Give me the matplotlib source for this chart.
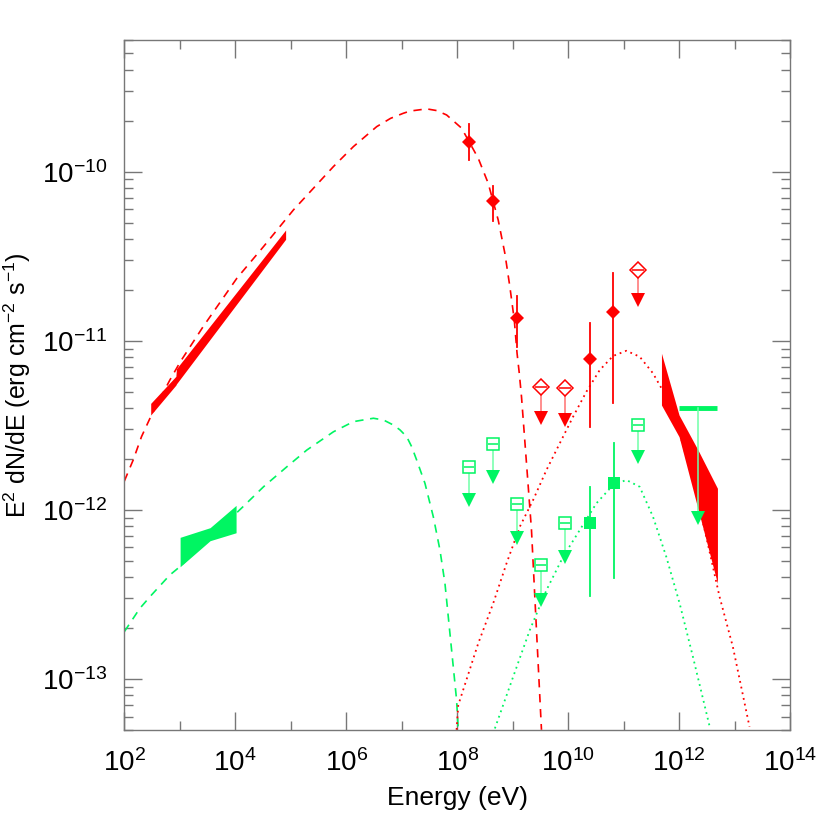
import numpy as np
import matplotlib
matplotlib.use("Agg")
import matplotlib.pyplot as plt
from matplotlib.ticker import FixedLocator, FuncFormatter, NullFormatter

plt.rcParams['font.family'] = ['Liberation Sans', 'DejaVu Sans']
plt.rcParams['mathtext.default'] = 'regular'
plt.rcParams['axes.unicode_minus'] = False

RED = '#ff0000'
GREEN = '#00f562'

# ---- model curves (log10 E [eV], log10 E^2 dN/dE [erg cm-2 s-1])
red_dash_logE = [2.0, 2.16, 2.31, 2.49, 2.82, 3.01, 3.42, 4.03, 4.51, 5.05, 5.41, 5.77, 6.13, 6.55,
                 6.80, 7.03, 7.15, 7.45, 7.63, 7.81, 8.08, 8.23, 8.38, 8.56, 8.74, 8.86, 8.95, 9.03,
                 9.08, 9.12, 9.16, 9.25, 9.34, 9.40, 9.46, 9.52]
red_dash_logF = [-11.83, -11.705, -11.567, -11.439, -11.233, -11.124, -10.917, -10.630, -10.443,
                 -10.226, -10.098, -9.970, -9.852, -9.734, -9.685, -9.655, -9.642, -9.629, -9.639,
                 -9.665, -9.743, -9.832, -9.921, -10.069, -10.286, -10.483, -10.680, -10.877,
                 -11.074, -11.192, -11.331, -11.724, -12.119, -12.513, -12.907, -13.30]

green_dash_logE = [2.0, 2.28, 2.49, 2.82, 3.00, 4.14, 4.51, 4.93, 5.29, 5.77, 6.13, 6.49, 6.67,
                   6.85, 6.97, 7.09, 7.18, 7.27, 7.42, 7.57, 7.69, 7.78, 7.87, 7.93, 7.99, 8.02]
green_dash_logF = [-12.72, -12.582, -12.503, -12.385, -12.336, -11.981, -11.863, -11.745, -11.646,
                   -11.538, -11.478, -11.458, -11.468, -11.498, -11.527, -11.567, -11.626, -11.705,
                   -11.843, -12.040, -12.237, -12.434, -12.730, -12.927, -13.124, -13.30]

red_dot_logE = [7.99, 8.02, 8.38, 8.65, 8.89, 9.13, 9.37, 9.61, 9.85, 10.09, 10.33, 10.57, 10.81,
                11.05, 11.29, 11.53, 11.77, 12.01, 12.25, 12.49, 12.73, 12.97, 13.27]
red_dot_logF = [-13.30, -13.154, -12.789, -12.552, -12.316, -12.099, -11.941, -11.764, -11.606,
                -11.449, -11.301, -11.173, -11.090, -11.059, -11.094, -11.192, -11.331, -11.547,
                -11.823, -12.158, -12.513, -12.809, -13.282]

green_dot_logE = [8.68, 9.01, 9.31, 9.61, 9.91, 10.21, 10.51, 10.81, 11.05, 11.29, 11.53, 11.77,
                  12.01, 12.25, 12.56]
green_dot_logF = [-13.292, -12.986, -12.710, -12.474, -12.277, -12.119, -11.961, -11.853, -11.823,
                  -11.863, -12.040, -12.277, -12.552, -12.868, -13.292]

# ---- red detections (filled diamonds)
red_pt_logE = [8.211, 8.649, 9.081, 10.386, 10.818]
red_pt_logF = [-9.823, -10.175, -10.867, -11.108, -10.831]
red_pt_hi = [-9.719, -10.085, -10.735, -10.895, -10.601]
red_pt_lo = [-9.930, -10.290, -11.035, -11.508, -11.370]

# ---- red upper limits (open diamonds)
red_ul_logE = [9.514, 9.953, 11.256]
red_ul_logF = [-11.271, -11.281, -10.581]
red_ul_arrow = [-11.458, -11.468, -10.759]

# ---- green detections (filled squares)
green_pt_logE = [10.386, 10.824]
green_pt_logF = [-12.076, -11.843]
green_pt_hi = [-11.866, -11.606]
green_pt_lo = [-12.509, -12.401]

# ---- green upper limits (open squares)
green_ul_logE = [8.216, 8.649, 9.081, 9.514, 9.953, 11.256]
green_ul_logF = [-11.745, -11.612, -11.965, -12.326, -12.079, -11.498]
green_ul_arrow = [-11.941, -11.804, -12.168, -12.533, -12.280, -11.685]

# ---- green TeV upper limit (bar + arrow)
green_tev_logE = [11.993, 12.342, 12.692]
green_tev_logF = -11.397
green_tev_arrow = -12.050

# ---- red X-ray band
xray_logE = [2.476, 2.93, 2.94, 4.908]
xray_hi = [-11.370, -11.21, -11.165, -10.345]
xray_lo = [-11.439, -11.262, -11.255, -10.400]

# ---- green optical/UV bowtie
opt_logE = [3.006, 3.546, 4.015]
opt_hi = [-12.162, -12.105, -11.973]
opt_lo = [-12.336, -12.182, -12.135]

# ---- red TeV bowtie
tev_logE = [11.683, 12.0, 12.342, 12.692]
tev_hi = [-11.074, -11.439, -11.646, -11.872]
tev_lo = [-11.380, -11.567, -11.995, -12.434]

x_major_exp = [2, 4, 6, 8, 10, 12, 14]
x_minor_exp = [3, 5, 7, 9, 11, 13]
y_major_exp = [-13, -12, -11, -10]


def p(a):
    return np.power(10.0, np.asarray(a, dtype=float))


fig = plt.figure(figsize=(8.3, 8.3), dpi=100)
ax = fig.add_axes([124.3 / 830, 1 - 730 / 830, (790 - 124.3) / 830, 690 / 830])
ax.set_xscale('log')
ax.set_yscale('log')

# bands
ax.fill_between(p(xray_logE), p(xray_lo), p(xray_hi), color=RED, lw=0, zorder=3)
ax.fill_between(p(opt_logE), p(opt_lo), p(opt_hi), color=GREEN, lw=0, zorder=3)
ax.fill_between(p(tev_logE), p(tev_lo), p(tev_hi), color=RED, lw=0, zorder=3)

# curves
ax.plot(p(red_dash_logE), p(red_dash_logF), color=RED, lw=1.2, ls=(0, (5, 4)), zorder=2)
ax.plot(p(green_dash_logE), p(green_dash_logF), color=GREEN, lw=1.2, ls=(0, (5, 4)), zorder=2)
ax.plot(p(red_dot_logE), p(red_dot_logF), color=RED, lw=1.3, ls=(0, (1, 2.2)), zorder=2)
ax.plot(p(green_dot_logE), p(green_dot_logF), color=GREEN, lw=1.3, ls=(0, (1, 2.2)), zorder=2)

# red detections
for e, f, hi, lo in zip(red_pt_logE, red_pt_logF, red_pt_hi, red_pt_lo):
    ax.plot([p(e), p(e)], [p(lo), p(hi)], color=RED, lw=1.3, zorder=4)
ax.plot(p(red_pt_logE), p(red_pt_logF), ls='none', marker='D', ms=7, color=RED, mew=0, zorder=5)

# green detections
for e, f, hi, lo in zip(green_pt_logE, green_pt_logF, green_pt_hi, green_pt_lo):
    ax.plot([p(e), p(e)], [p(lo), p(hi)], color=GREEN, lw=1.3, zorder=4)
ax.plot(p(green_pt_logE), p(green_pt_logF), ls='none', marker='s', ms=8.5, color=GREEN, mew=0, zorder=5)

# red upper limits
for e, f, a in zip(red_ul_logE, red_ul_logF, red_ul_arrow):
    ax.plot([p(e), p(e)], [p(f), p(a)], color='#ff7070', lw=1.1, zorder=4)
ax.plot(p(red_ul_logE), p(red_ul_arrow), ls='none', marker='v', ms=10, color=RED, mew=0, zorder=5)
ax.plot(p(red_ul_logE), p(red_ul_logF), ls='none', marker='D', ms=8, mfc='white', mec=RED, mew=1.1, zorder=5)
ax.plot(p(red_ul_logE), p(red_ul_logF), ls='none', marker='_', ms=8, mec=RED, mew=1.1, zorder=6)

# green upper limits
for e, f, a in zip(green_ul_logE, green_ul_logF, green_ul_arrow):
    ax.plot([p(e), p(e)], [p(f), p(a)], color='#70ffa8', lw=1.1, zorder=4)
ax.plot(p(green_ul_logE), p(green_ul_arrow), ls='none', marker='v', ms=10, color=GREEN, mew=0, zorder=5)
ax.plot(p(green_ul_logE), p(green_ul_logF), ls='none', marker='s', ms=8.5, mfc='white', mec=GREEN, mew=1.1, zorder=5)
ax.plot(p(green_ul_logE), p(green_ul_logF), ls='none', marker='_', ms=7, mec=GREEN, mew=1.1, zorder=6)

# green TeV limit
ax.plot([p(green_tev_logE[0]), p(green_tev_logE[2])], [p(green_tev_logF)] * 2, color=GREEN, lw=3.5,
        solid_capstyle='butt', zorder=5)
ax.plot([p(green_tev_logE[1])] * 2, [p(green_tev_logF), p(green_tev_arrow)], color='#70ffa8', lw=1.1, zorder=5)
ax.plot([p(green_tev_logE[1])], [p(green_tev_arrow)], ls='none', marker='v', ms=10, color=GREEN, mew=0, zorder=6)

ax.set_xlim(1e2, 1e14)
ax.set_ylim(5.0e-14, 6.0e-10)


def pow_fmt(v, pos):
    e = int(round(np.log10(v)))
    return r'$10^{%d}$' % e


# ticks
ax.xaxis.set_major_locator(FixedLocator(p(x_major_exp)))
ax.xaxis.set_minor_locator(FixedLocator(p(x_minor_exp)))
ax.xaxis.set_major_formatter(FuncFormatter(pow_fmt))
ax.xaxis.set_minor_formatter(NullFormatter())
ax.yaxis.set_major_locator(FixedLocator(p(y_major_exp)))
ymin = [m * 10.0 ** d for d in range(-14, -9) for m in range(2, 10)]
ax.yaxis.set_minor_locator(FixedLocator(ymin))
ax.yaxis.set_major_formatter(FuncFormatter(pow_fmt))
ax.yaxis.set_minor_formatter(NullFormatter())

GRAY = '#777777'
for s in ax.spines.values():
    s.set_color(GRAY)
    s.set_linewidth(1.0)
ax.tick_params(which='both', direction='in', top=True, right=True, color=GRAY, width=1.0)
ax.tick_params(which='major', length=13, labelsize=20, labelcolor='black')
ax.tick_params(axis='x', which='major', pad=14)
ax.tick_params(axis='y', which='major', pad=12)
ax.tick_params(which='minor', length=6.5)

ax.set_xlabel('Energy (eV)', fontsize=19, labelpad=6)
ax.set_ylabel('E$^{2}$ dN/dE (erg cm$^{-2}$ s$^{-1}$)', fontsize=18)
ax.yaxis.set_label_coords((33 - 124.3) / 665.7, 0.5)

fig.savefig('out.png', dpi=100)
